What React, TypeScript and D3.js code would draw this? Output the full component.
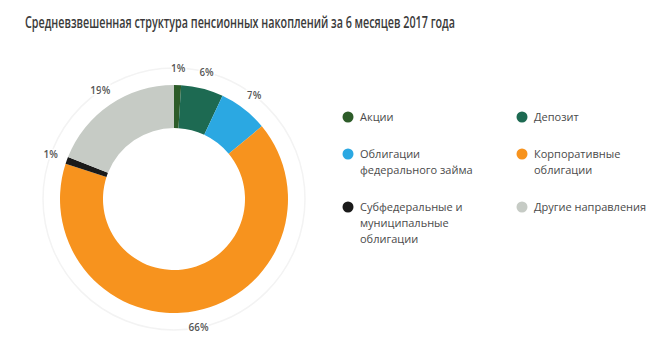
import React from "react";
import * as d3 from "d3";

const categories = ["Акции", "Депозит", "Облигации федерального займа", "Корпоративные облигации", "Субфедеральные и муниципальные облигации", "Другие направления"];
const values = [1, 6, 7, 66, 1, 19];
const colors = ["#2d5c29", "#1d6a52", "#2ba8e2", "#f7931e", "#1a1a1a", "#c6cbc5"];
const legendLines = [["Акции"], ["Депозит"], ["Облигации", "федерального займа"], ["Корпоративные", "облигации"], ["Субфедеральные и", "муниципальные", "облигации"], ["Другие направления"]];
const title = "Средневзвешенная структура пенсионных накоплений за 6 месяцев 2017 года";

export default function App() {
  const W = 671, H = 363;
  const cx = 174, cy = 199, rOuter = 114, rInner = 71, rLabel = 131;
  const pie = d3.pie<number>().sort(null).value(d => d);
  const arcs = pie(values);
  const arc = d3.arc<d3.PieArcDatum<number>>().innerRadius(rInner).outerRadius(rOuter);
  const font = "'Open Sans', 'Noto Sans', sans-serif";
  const rowY = [117, 154, 207];
  const colX = [348, 522];
  return (
    <svg width={W} height={H} style={{ position: "absolute", left: 0, top: 0, background: "#fff" }} fontFamily={font}>
      <text x={25} y={28} fontSize={15.5} fontWeight={600} fill="#3a3a3a" textLength={430} lengthAdjust="spacingAndGlyphs">{title}</text>
      <circle cx={cx} cy={cy} r={rLabel} fill="none" stroke="#f3f3f3" strokeWidth={1.5} />
      <g transform={`translate(${cx},${cy})`}>
        {arcs.map((a, i) => (
          <path key={i} d={arc(a) || ""} fill={colors[i]} />
        ))}
        {arcs.map((a, i) => {
          const m = (a.startAngle + a.endAngle) / 2;
          const x = Math.sin(m) * rLabel;
          const y = -Math.cos(m) * rLabel;
          return (
            <text key={"l" + i} x={x} y={y} dy="0.35em" textAnchor="middle" fontSize={10} fill="#555" fontWeight={600}
              stroke="#fff" strokeWidth={3} paintOrder="stroke">{values[i]}%</text>
          );
        })}
      </g>
      {categories.map((c, i) => {
        const col = i % 2, row = Math.floor(i / 2);
        const x = colX[col], y = rowY[row];
        return (
          <g key={c}>
            <circle cx={x} cy={y} r={5.5} fill={colors[i]} />
            {legendLines[i].map((ln, j) => (
              <text key={j} x={x + 12} y={y + j * 16} dy="0.35em" fontSize={11} fill="#4a4a4a">{ln}</text>
            ))}
          </g>
        );
      })}
    </svg>
  );
}
